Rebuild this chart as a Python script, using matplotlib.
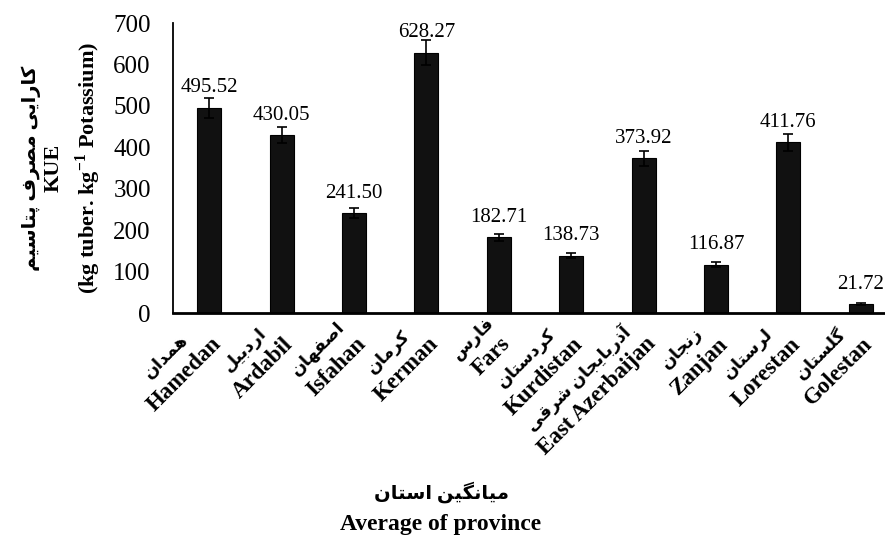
import matplotlib
matplotlib.use("Agg")
import matplotlib.pyplot as plt
import numpy as np

# Data
provinces_fa = ["همدان", "اردبیل", "اصفهان", "کرمان", "فارس", "کردستان",
                "آذربایجان شرقی", "زنجان", "لرستان", "گلستان"]
provinces_en = ["Hamedan", "Ardabil", "Isfahan", "Kerman", "Fars", "Kurdistan",
                "East Azerbaijan", "Zanjan", "Lorestan", "Golestan"]
kue = [495.52, 430.05, 241.50, 628.27, 182.71, 138.73, 373.92, 116.87, 411.76, 21.72]
kue_err = [24, 20, 13, 30, 9, 6, 18, 6, 20, 2]

ylabel_fa = "کارایی مصرف پتاسیم"
xlabel_fa = "میانگین استان"

# Arabic/Persian presentation forms: isolated, final, initial, medial
FORMS = {
    "ا": ("\uFE8D", "\uFE8E", None, None),
    "آ": ("\uFE81", "\uFE82", None, None),
    "ب": ("\uFE8F", "\uFE90", "\uFE91", "\uFE92"),
    "پ": ("\uFB56", "\uFB57", "\uFB58", "\uFB59"),
    "ت": ("\uFE95", "\uFE96", "\uFE97", "\uFE98"),
    "ج": ("\uFE9D", "\uFE9E", "\uFE9F", "\uFEA0"),
    "د": ("\uFEA9", "\uFEAA", None, None),
    "ذ": ("\uFEAB", "\uFEAC", None, None),
    "ر": ("\uFEAD", "\uFEAE", None, None),
    "ز": ("\uFEAF", "\uFEB0", None, None),
    "س": ("\uFEB1", "\uFEB2", "\uFEB3", "\uFEB4"),
    "ش": ("\uFEB5", "\uFEB6", "\uFEB7", "\uFEB8"),
    "ص": ("\uFEB9", "\uFEBA", "\uFEBB", "\uFEBC"),
    "ف": ("\uFED1", "\uFED2", "\uFED3", "\uFED4"),
    "ق": ("\uFED5", "\uFED6", "\uFED7", "\uFED8"),
    "ک": ("\uFB8E", "\uFB8F", "\uFB90", "\uFB91"),
    "گ": ("\uFB92", "\uFB93", "\uFB94", "\uFB95"),
    "ل": ("\uFEDD", "\uFEDE", "\uFEDF", "\uFEE0"),
    "م": ("\uFEE1", "\uFEE2", "\uFEE3", "\uFEE4"),
    "ن": ("\uFEE5", "\uFEE6", "\uFEE7", "\uFEE8"),
    "ه": ("\uFEE9", "\uFEEA", "\uFEEB", "\uFEEC"),
    "ی": ("\uFBFC", "\uFBFD", "\uFBFE", "\uFBFF"),
}


def farsi(text):
    # join letters and put them in visual (left-to-right) order
    out = []
    n = len(text)
    for i, c in enumerate(text):
        if c not in FORMS:
            out.append(c)
            continue
        iso, fin, ini, med = FORMS[c]
        jp = i > 0 and text[i - 1] in FORMS and FORMS[text[i - 1]][2] is not None
        jn = i + 1 < n and text[i + 1] in FORMS and ini is not None
        if jp and jn:
            out.append(med)
        elif jp:
            out.append(fin)
        elif jn:
            out.append(ini)
        else:
            out.append(iso)
    return "".join(reversed(out))


FAM = ["Liberation Serif", "DejaVu Sans"]
plt.rcParams["font.family"] = FAM
plt.rcParams["mathtext.fontset"] = "custom"
plt.rcParams["mathtext.rm"] = "Liberation Serif:bold"
plt.rcParams["mathtext.bf"] = "Liberation Serif:bold"

fig = plt.figure(figsize=(8.85, 5.35), dpi=100)
ax = fig.add_axes([173 / 885, 1 - 313 / 535, 724 / 885, 290 / 535])

x = np.arange(len(kue))
ax.bar(x, kue, width=0.33, color="#111111", edgecolor="black", linewidth=0.8, zorder=2)
ax.errorbar(x, kue, yerr=kue_err, fmt="none", ecolor="black", elinewidth=1.2,
            capsize=3.5, capthick=1.2, zorder=3)

for xi, v in zip(x, kue):
    ax.annotate("%.2f" % v, (xi, v), xytext=(0, 11), textcoords="offset points",
                ha="center", va="baseline", fontsize=15, family=FAM)

ax.set_xlim(-0.5, len(kue) - 0.5)
ax.set_ylim(0, 700)
ax.set_yticks(np.arange(0, 701, 100))
ax.tick_params(axis="y", length=0, pad=16, labelsize=18)
ax.set_xticks(x)
ax.tick_params(axis="x", length=0, labelbottom=False)

# two-line rotated category labels: Persian above, English below
for xi, fa, en in zip(x, provinces_fa, provinces_en):
    t_en = ax.annotate(en, (xi, 0), xycoords=("data", "axes fraction"),
                       xytext=(9, -23), textcoords="offset points",
                       rotation=45, rotation_mode="anchor", ha="right", va="baseline",
                       fontsize=16.5, fontweight="bold", family=FAM)
    ax.annotate(farsi(fa), (0.5, 0.5), xycoords=t_en,
                xytext=(-13, 13), textcoords="offset points",
                rotation=45, rotation_mode="anchor", ha="center", va="center",
                fontsize=12.5, fontweight="bold", family=FAM)

for s in ["top", "right"]:
    ax.spines[s].set_visible(False)
ax.spines["left"].set_linewidth(1.3)
ax.spines["bottom"].set_linewidth(2)

# y label in three lines
fig.text(31 / 885, 1 - 168 / 535, farsi(ylabel_fa), rotation=90, ha="center", va="center",
         fontsize=14, fontweight="bold", family=FAM)
fig.text(54 / 885, 1 - 168 / 535, "KUE", rotation=90, ha="center", va="center",
         fontsize=16, fontweight="bold", family=FAM)
fig.text(88 / 885, 1 - 168 / 535, r"(kg tuber. kg$^{-1}$ Potassium)", rotation=90,
         ha="center", va="center", fontsize=16, fontweight="bold", family=FAM)

# x label
fig.text(441 / 885, 1 - 492 / 535, farsi(xlabel_fa), ha="center", va="center",
         fontsize=14, fontweight="bold", family=FAM)
fig.text(441 / 885, 1 - 530 / 535, "Average of province", ha="center", va="baseline",
         fontsize=17, fontweight="bold", family=FAM)

fig.savefig("out.png", dpi=100)
